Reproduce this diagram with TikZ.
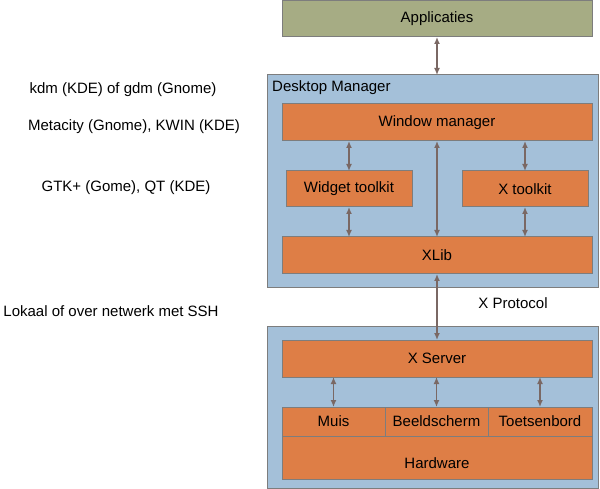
\documentclass[tikz,border=0pt]{standalone}
\usepackage{fontspec}
\setmainfont{Liberation Sans}
\usepackage{tikz}
\usetikzlibrary{arrows.meta}

\definecolor{appgreen}{RGB}{166,172,132}
\definecolor{layerorange}{RGB}{222,126,70}
\definecolor{panelblue}{RGB}{164,192,217}
\definecolor{edgegrey}{RGB}{125,125,125}
\definecolor{linkbrown}{RGB}{122,104,100}

\tikzset{
  layer/.style={draw=edgegrey,line width=1pt,fill=layerorange,inner sep=0pt,outer sep=0pt,
    minimum height=37pt},
  panel/.style={draw=edgegrey,line width=1pt,fill=panelblue,inner sep=0pt,outer sep=0pt},
  link/.style={draw=linkbrown,line width=1.3pt,{Latex[length=7pt,width=6pt]}-{Latex[length=7pt,width=6pt]}},
  note/.style={inner sep=0pt}
}

\begin{document}
\begin{tikzpicture}[x=1pt,y=-1pt,font=\fontsize{15}{17}\selectfont]
\useasboundingbox (0,0) rectangle (600,489);

%top
\node[draw=edgegrey,line width=1pt,fill=appgreen,inner sep=0pt,outer sep=0pt,
  minimum width=310pt,minimum height=36pt] (app) at (437,19) {Applicaties};

%desktop manager
\node[panel,minimum width=331pt,minimum height=213pt] (dm) at (432.5,181.5) {};
\node[note,anchor=west] (dmlabel) at (272,88) {Desktop Manager};
\node[layer,minimum width=310pt] (wm) at (437,122.5) {Window manager};
\node[layer,minimum width=126pt,minimum height=36pt] (widget) at (349,189) {Widget toolkit};
\node[layer,minimum width=126pt,minimum height=36pt] (xtk) at (525,189) {X toolkit};
\node[layer,minimum width=310pt] (xlib) at (437,255.5) {XLib};

%x server
\node[panel,minimum width=331pt,minimum height=162pt] (srv) at (432.5,407) {};
\node[layer,minimum width=310pt] (xserver) at (437,358.5) {X Server};
\node[layer,minimum width=103pt,minimum height=29pt] (muis) at (333.5,421.5) {Muis};
\node[layer,minimum width=103pt,minimum height=29pt] (beeld) at (436.5,421.5) {Beeldscherm};
\node[layer,minimum width=104pt,minimum height=29pt] (toets) at (540,421.5) {Toetsenbord};
\node[layer,minimum width=310pt,minimum height=43pt,text height=23pt] (hw) at (437,457.5) {Hardware};

%links
\draw[link] (app.south) -- (app.south |- dm.north);
\draw[link] (widget.north) -- (widget.north |- wm.south);
\draw[link] (wm.south) -- (xlib.north);
\draw[link] (xtk.north) -- (xtk.north |- wm.south);
\draw[link] (widget.south) -- (widget.south |- xlib.north);
\draw[link] (xtk.south) -- (xtk.south |- xlib.north);
\draw[link] (xlib.south) -- (xserver.north);
\draw[link] (muis.north) -- (muis.north |- xserver.south);
\draw[link] (beeld.north) -- (beeld.north |- xserver.south);
\draw[link] (toets.north) -- (toets.north |- xserver.south);

%left side
\node[note] (kdm) at (123,90) {kdm (KDE) of gdm (Gnome)};
\node[note] (meta) at (134,127) {Metacity (Gnome), KWIN (KDE)};
\node[note] (gtk) at (126,188) {GTK+ (Gome), QT (KDE)};
\node[note] (ssh) at (111,311) {Lokaal of over netwerk met SSH};
\node[note] (proto) at (513,303) {X Protocol};
\end{tikzpicture}
\end{document}
